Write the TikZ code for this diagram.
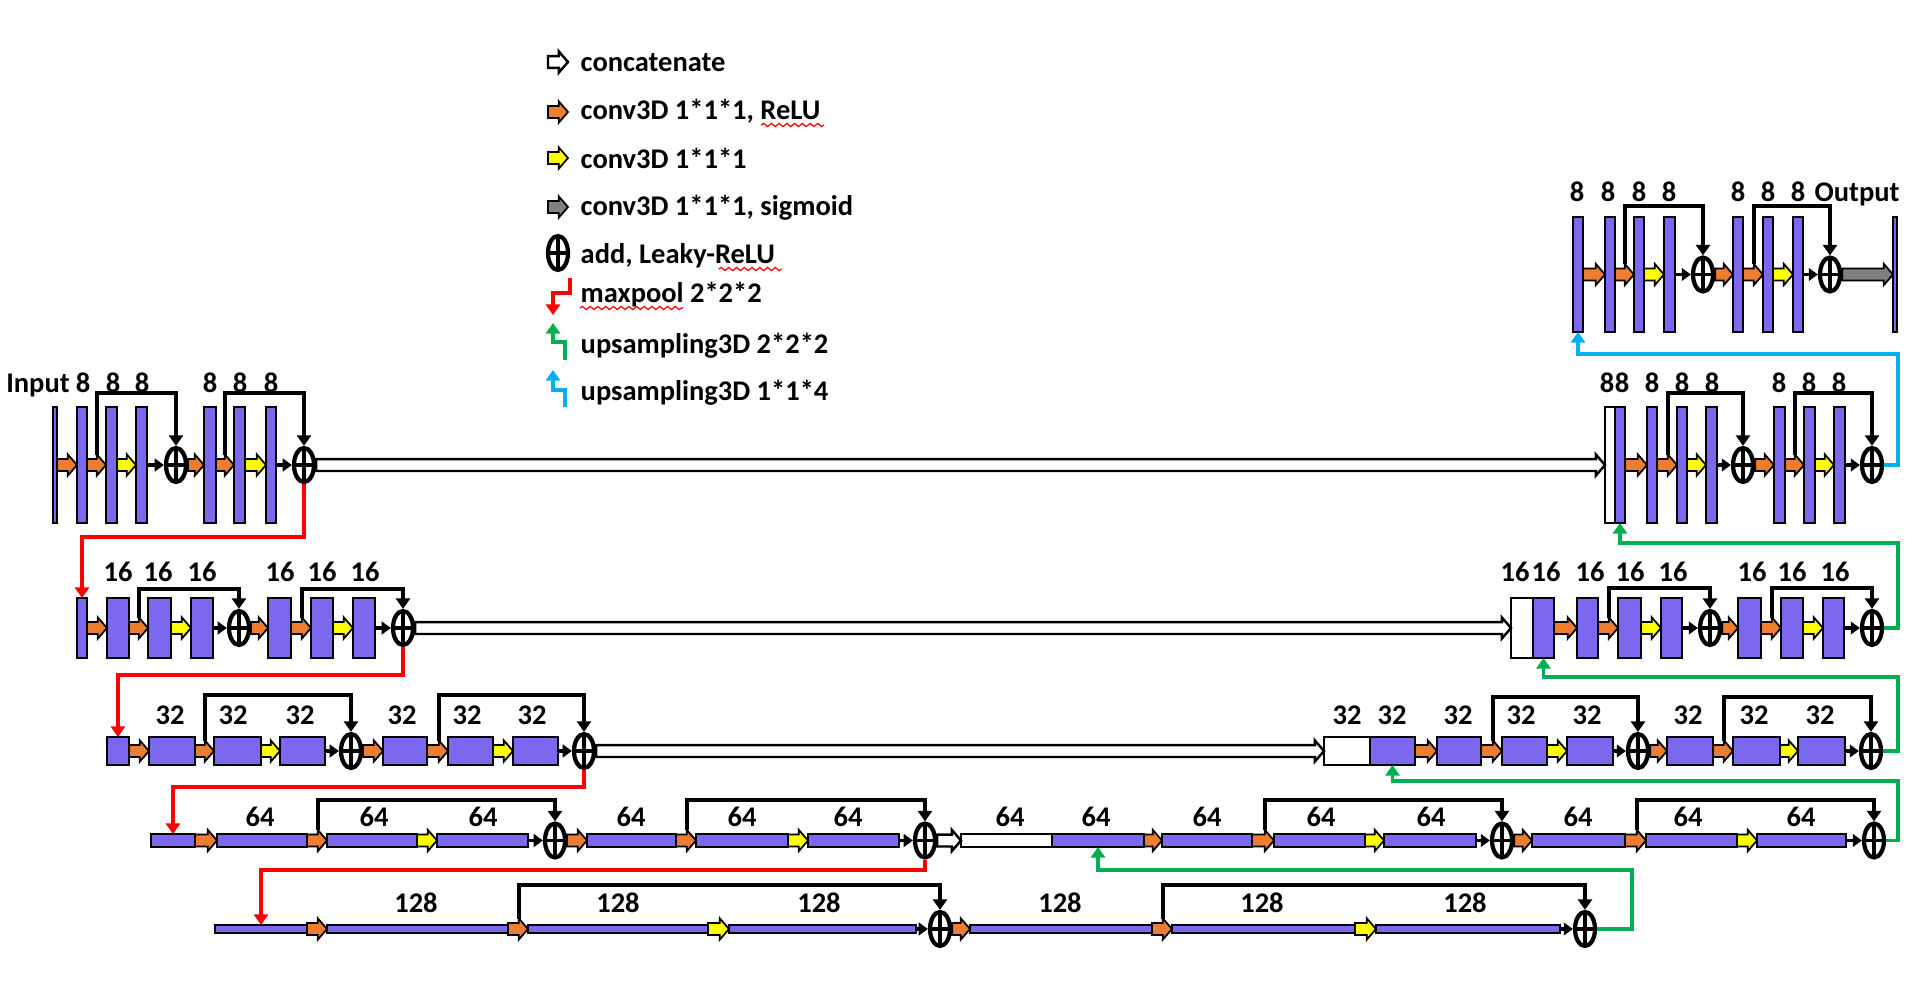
\documentclass[tikz,border=0pt]{standalone}
\usepackage{fontspec}
\setmainfont{Carlito}
\usetikzlibrary{shapes.geometric,calc,fit,arrows.meta,decorations.pathmorphing}

\definecolor{unitblue}{RGB}{123,104,238}
\definecolor{convorange}{RGB}{237,125,49}
\definecolor{convyellow}{RGB}{255,255,0}
\definecolor{sigmgrey}{RGB}{128,128,128}
\definecolor{poolred}{RGB}{255,0,0}
\definecolor{upgreen}{RGB}{0,176,80}
\definecolor{upblue}{RGB}{0,176,240}

\tikzset{
  fmap/.style={draw, fill=unitblue, line width=0.5pt, inner sep=0pt, outer sep=0pt},
  catbox/.style={fmap, fill=white},
  addop/.style={ellipse, draw, fill=white, line width=1.2pt, inner sep=0pt,
    minimum width=0.2cm, minimum height=0.34cm,
    path picture={\draw[line width=1.1pt]
      (path picture bounding box.north) -- (path picture bounding box.south)
      (path picture bounding box.west) -- (path picture bounding box.east);}},
  blockarrow/.style={draw, line width=0.5pt, line join=miter},
  resline/.style={line width=1.1pt, -{Triangle[length=2.6pt,width=3.6pt]}},
  skipline/.style={line width=1.1pt, line join=miter, -{Triangle[length=3pt,width=4pt]}},
  poolline/.style={skipline, draw=poolred},
  upline/.style={skipline, draw=upgreen},
  upline4/.style={skipline, draw=upblue},
  lbl/.style={font=\fontsize{8.1}{9}\selectfont\bfseries, inner sep=0pt, anchor=base},
  legtxt/.style={lbl, anchor=base west},
  squiggle/.style={draw=poolred, line width=0.35pt, decorate,
    decoration={snake, amplitude=0.45pt, segment length=2.2pt}}
}

% feature map box between two corners
\newcommand{\fm}[4][fmap]{\node[#1, fit={(#3) (#4)}] (#2) {};}
% block arrow (conv / concatenate / sigmoid)
\newcommand{\convarrow}[4][]{%
  \draw[blockarrow, fill=#2, #1] let \p1=(#3), \p2=(#4) in
    (\x1,\y1+1.7pt) -- (\x2-2.6pt,\y1+1.7pt) -- (\x2-2.6pt,\y1+3pt)
    -- (\x2,\y1) -- (\x2-2.6pt,\y1-3pt) -- (\x2-2.6pt,\y1-1.7pt)
    -- (\x1,\y1-1.7pt) -- cycle;}
% shortcut from the conv arrow into #1 up to the add node #2
\newcommand{\skipconn}[3]{%
  \draw[skipline] ([shift={(-9,-10.5)}]#1.west) |- (#2 |- 0,#3) -- (#2.north);}
% residual group: in, three maps, add
\newcommand{\resgroup}[6]{%
  \convarrow{convorange}{#1.east}{#2.west}
  \convarrow{convorange}{#2.east}{#3.west}
  \convarrow{convyellow}{#3.east}{#4.west}
  \draw[resline] (#4.east) -- (#5.west);
  \skipconn{#3}{#5}{#6}}

\begin{document}
\begin{tikzpicture}[x=0.01cm,y=-0.01cm]
  \useasboundingbox (0,0) rectangle (1914,1006);

  % legend
  \coordinate (lg1a) at (548,62); \coordinate (lg1b) at (568,62);
  \convarrow[line width=0.7pt]{white}{lg1a}{lg1b}
  \node[legtxt] (lt1) at (580,71) {concatenate};
  \coordinate (lg2a) at (548,112); \coordinate (lg2b) at (568,112);
  \convarrow{convorange}{lg2a}{lg2b}
  \node[legtxt] (lt2) at (580,119) {conv3D 1*1*1, ReLU};
  \coordinate (lg3a) at (548,158); \coordinate (lg3b) at (568,158);
  \convarrow{convyellow}{lg3a}{lg3b}
  \node[legtxt] (lt3) at (580,168) {conv3D 1*1*1};
  \coordinate (lg4a) at (548,207); \coordinate (lg4b) at (568,207);
  \convarrow{sigmgrey}{lg4a}{lg4b}
  \node[legtxt] (lt4) at (580,215) {conv3D 1*1*1, sigmoid};
  \node[addop] (lg5) at (558,253) {};
  \node[legtxt] (lt5) at (580,263) {add, Leaky-ReLU};
  \coordinate (lg6a) at (570,278); \coordinate (lg6b) at (553,315);
  \draw[poolline] (lg6a) |- (lg6b |- 0,293) -- (lg6b);
  \node[legtxt] (lt6) at (580,302) {maxpool 2*2*2};
  \coordinate (lg7a) at (565,360); \coordinate (lg7b) at (553,323);
  \draw[upline] (lg7a) |- (lg7b |- 0,342) -- (lg7b);
  \node[legtxt] (lt7) at (580,353) {upsampling3D 2*2*2};
  \coordinate (lg8a) at (565,407); \coordinate (lg8b) at (553,370);
  \draw[upline4] (lg8a) |- (lg8b |- 0,390) -- (lg8b);
  \node[legtxt] (lt8) at (580,400) {upsampling3D 1*1*4};
  \draw[squiggle] ([shift={(3,6)}]lt2.base east) -- ++(-63,0);
  \draw[squiggle] ([shift={(6,6)}]lt5.base east) -- ++(-63,0);
  \draw[squiggle] ([shift={(0,6)}]lt6.base west) -- ++(103,0);

  % level 0: output
  \fm{r0u}{1573,217}{1583,332}
  \fm{r0b1}{1605,217}{1615,332}
  \fm{r0b2}{1634,217}{1644,332}
  \fm{r0b3}{1664,217}{1675,332}
  \node[addop] (r0c1) at (1703,274.5) {};
  \fm{r0b4}{1733,217}{1743,332}
  \fm{r0b5}{1763,217}{1773,332}
  \fm{r0b6}{1793,217}{1803,332}
  \node[addop] (r0c2) at (1830,274.5) {};
  \fm{r0o}{1893,217}{1897,332}
  \resgroup{r0u}{r0b1}{r0b2}{r0b3}{r0c1}{206}
  \resgroup{r0c1}{r0b4}{r0b5}{r0b6}{r0c2}{206}
  \convarrow{sigmgrey}{r0c2.east}{r0o.west}
  \node[lbl] (n0a) at (1577,202) {8};
  \node[lbl] (n0b) at (1608,202) {8};
  \node[lbl] (n0c) at (1639,202) {8};
  \node[lbl] (n0d) at (1669,202) {8};
  \node[lbl] (n0e) at (1738,202) {8};
  \node[lbl] (n0f) at (1768,202) {8};
  \node[lbl] (n0g) at (1798,202) {8};
  \node[lbl] (n0h) at (1857,202) {Output};

  % level 1: 8
  \fm{r1i}{53,407}{57,523}
  \fm{r1b1}{77,407}{87,523}
  \fm{r1b2}{106,407}{117,523}
  \fm{r1b3}{136,407}{147,523}
  \node[addop] (r1c1) at (176,465) {};
  \fm{r1b4}{204,407}{216,523}
  \fm{r1b5}{234,407}{245,523}
  \fm{r1b6}{266,407}{276,523}
  \node[addop] (r1c2) at (304,465) {};
  \resgroup{r1i}{r1b1}{r1b2}{r1b3}{r1c1}{393}
  \resgroup{r1c1}{r1b4}{r1b5}{r1b6}{r1c2}{393}
  \fm[catbox]{r1w}{1605,407}{1615,523}
  \fm{r1u}{1615,407}{1625,523}
  \fm{r1rb1}{1647,407}{1657,523}
  \fm{r1rb2}{1677,407}{1687,523}
  \fm{r1rb3}{1706,407}{1717,523}
  \node[addop] (r1rc1) at (1743,465) {};
  \fm{r1rb4}{1774,407}{1785,523}
  \fm{r1rb5}{1804,407}{1815,523}
  \fm{r1rb6}{1834,407}{1845,523}
  \node[addop] (r1rc2) at (1872,465) {};
  \resgroup{r1u}{r1rb1}{r1rb2}{r1rb3}{r1rc1}{393}
  \resgroup{r1rc1}{r1rb4}{r1rb5}{r1rb6}{r1rc2}{393}
  \convarrow[line width=0.7pt]{white}{r1c2.east}{r1w.west}
  \node[lbl] (n1a) at (38,392) {Input};
  \node[lbl] (n1b) at (83,392) {8};
  \node[lbl] (n1c) at (113,392) {8};
  \node[lbl] (n1d) at (142,392) {8};
  \node[lbl] (n1e) at (210,392) {8};
  \node[lbl] (n1f) at (240,392) {8};
  \node[lbl] (n1g) at (271,392) {8};
  \node[lbl] (n1h) at (1607,392) {8};
  \node[lbl] (n1i) at (1622,392) {8};
  \node[lbl] (n1j) at (1652,392) {8};
  \node[lbl] (n1k) at (1682,392) {8};
  \node[lbl] (n1l) at (1712,392) {8};
  \node[lbl] (n1m) at (1779,392) {8};
  \node[lbl] (n1n) at (1809,392) {8};
  \node[lbl] (n1o) at (1839,392) {8};

  % level 2: 16
  \fm{r2a}{77,598}{87,658}
  \fm{r2b1}{107,598}{129,658}
  \fm{r2b2}{148,598}{171,658}
  \fm{r2b3}{191,598}{213,658}
  \node[addop] (r2c1) at (239,628) {};
  \fm{r2b4}{268,598}{291,658}
  \fm{r2b5}{311,598}{333,658}
  \fm{r2b6}{353,598}{375,658}
  \node[addop] (r2c2) at (403,628) {};
  \resgroup{r2a}{r2b1}{r2b2}{r2b3}{r2c1}{589}
  \resgroup{r2c1}{r2b4}{r2b5}{r2b6}{r2c2}{589}
  \fm[catbox]{r2w}{1511,598}{1533,658}
  \fm{r2u}{1533,598}{1554,658}
  \fm{r2rb1}{1577,598}{1598,658}
  \fm{r2rb2}{1618,598}{1641,658}
  \fm{r2rb3}{1661,598}{1682,658}
  \node[addop] (r2rc1) at (1710,628) {};
  \fm{r2rb4}{1738,598}{1761,658}
  \fm{r2rb5}{1781,598}{1803,658}
  \fm{r2rb6}{1823,598}{1844,658}
  \node[addop] (r2rc2) at (1872,628) {};
  \resgroup{r2u}{r2rb1}{r2rb2}{r2rb3}{r2rc1}{588}
  \resgroup{r2rc1}{r2rb4}{r2rb5}{r2rb6}{r2rc2}{588}
  \convarrow[line width=0.7pt]{white}{r2c2.east}{r2w.west}
  \node[lbl] (n2a) at (118,581) {16};
  \node[lbl] (n2b) at (158,581) {16};
  \node[lbl] (n2c) at (202,581) {16};
  \node[lbl] (n2d) at (280,581) {16};
  \node[lbl] (n2e) at (322,581) {16};
  \node[lbl] (n2f) at (365,581) {16};
  \node[lbl] (n2g) at (1515,581) {16};
  \node[lbl] (n2h) at (1546,581) {16};
  \node[lbl] (n2i) at (1590,581) {16};
  \node[lbl] (n2j) at (1630,581) {16};
  \node[lbl] (n2k) at (1673,581) {16};
  \node[lbl] (n2l) at (1752,581) {16};
  \node[lbl] (n2m) at (1792,581) {16};
  \node[lbl] (n2n) at (1835,581) {16};

  % level 3: 32
  \fm{r3a}{107,737}{129,765}
  \fm{r3b1}{149,737}{195,765}
  \fm{r3b2}{214,737}{261,765}
  \fm{r3b3}{280,737}{325,765}
  \node[addop] (r3c1) at (351,751) {};
  \fm{r3b4}{383,737}{427,765}
  \fm{r3b5}{448,737}{493,765}
  \fm{r3b6}{513,737}{558,765}
  \node[addop] (r3c2) at (584,751) {};
  \resgroup{r3a}{r3b1}{r3b2}{r3b3}{r3c1}{695}
  \resgroup{r3c1}{r3b4}{r3b5}{r3b6}{r3c2}{695}
  \fm[catbox]{r3w}{1324,737}{1370,765}
  \fm{r3u}{1370,737}{1415,765}
  \fm{r3rb1}{1437,737}{1481,765}
  \fm{r3rb2}{1502,737}{1547,765}
  \fm{r3rb3}{1567,737}{1613,765}
  \node[addop] (r3rc1) at (1638,751) {};
  \fm{r3rb4}{1667,737}{1713,765}
  \fm{r3rb5}{1733,737}{1780,765}
  \fm{r3rb6}{1798,737}{1845,765}
  \node[addop] (r3rc2) at (1871,751) {};
  \resgroup{r3u}{r3rb1}{r3rb2}{r3rb3}{r3rc1}{697}
  \resgroup{r3rc1}{r3rb4}{r3rb5}{r3rb6}{r3rc2}{697}
  \convarrow[line width=0.7pt]{white}{r3c2.east}{r3w.west}
  \node[lbl] (n3a) at (170,724) {32};
  \node[lbl] (n3b) at (233,724) {32};
  \node[lbl] (n3c) at (300,724) {32};
  \node[lbl] (n3d) at (402,724) {32};
  \node[lbl] (n3e) at (467,724) {32};
  \node[lbl] (n3f) at (532,724) {32};
  \node[lbl] (n3g) at (1347,724) {32};
  \node[lbl] (n3h) at (1392,724) {32};
  \node[lbl] (n3i) at (1458,724) {32};
  \node[lbl] (n3j) at (1521,724) {32};
  \node[lbl] (n3k) at (1587,724) {32};
  \node[lbl] (n3l) at (1688,724) {32};
  \node[lbl] (n3m) at (1754,724) {32};
  \node[lbl] (n3n) at (1820,724) {32};

  % level 4: 64
  \fm{r4a}{151,834}{195,847}
  \fm{r4b1}{217,834}{307,847}
  \fm{r4b2}{327,834}{417,847}
  \fm{r4b3}{437,834}{528,847}
  \node[addop] (r4c1) at (555,840.5) {};
  \fm{r4b4}{587,834}{676,847}
  \fm{r4b5}{696,834}{788,847}
  \fm{r4b6}{808,834}{899,847}
  \node[addop] (r4c2) at (925,840.5) {};
  \resgroup{r4a}{r4b1}{r4b2}{r4b3}{r4c1}{800}
  \resgroup{r4c1}{r4b4}{r4b5}{r4b6}{r4c2}{800}
  \fm[catbox]{r4w}{961,834}{1052,847}
  \fm{r4u}{1052,834}{1144,847}
  \fm{r4rb1}{1162,834}{1252,847}
  \fm{r4rb2}{1274,834}{1365,847}
  \fm{r4rb3}{1384,834}{1476,847}
  \node[addop] (r4rc1) at (1502,840.5) {};
  \fm{r4rb4}{1532,834}{1625,847}
  \fm{r4rb5}{1646,834}{1737,847}
  \fm{r4rb6}{1757,834}{1846,847}
  \node[addop] (r4rc2) at (1874,840.5) {};
  \resgroup{r4u}{r4rb1}{r4rb2}{r4rb3}{r4rc1}{800}
  \resgroup{r4rc1}{r4rb4}{r4rb5}{r4rb6}{r4rc2}{800}
  \convarrow[line width=0.7pt]{white}{r4c2.east}{r4w.west}
  \node[lbl] (n4a) at (260,826) {64};
  \node[lbl] (n4b) at (374,826) {64};
  \node[lbl] (n4c) at (483,826) {64};
  \node[lbl] (n4d) at (631,826) {64};
  \node[lbl] (n4e) at (742,826) {64};
  \node[lbl] (n4f) at (848,826) {64};
  \node[lbl] (n4g) at (1010,826) {64};
  \node[lbl] (n4h) at (1096,826) {64};
  \node[lbl] (n4i) at (1207,826) {64};
  \node[lbl] (n4j) at (1321,826) {64};
  \node[lbl] (n4k) at (1431,826) {64};
  \node[lbl] (n4l) at (1578,826) {64};
  \node[lbl] (n4m) at (1688,826) {64};
  \node[lbl] (n4n) at (1801,826) {64};

  % level 5: 128
  \fm{r5a}{215,925}{307,933}
  \fm{r5b1}{327,925}{508,933}
  \fm{r5b2}{528,925}{708,933}
  \fm{r5b3}{729,925}{916,933}
  \node[addop] (r5c1) at (940,929) {};
  \fm{r5b4}{970,925}{1152,933}
  \fm{r5b5}{1172,925}{1355,933}
  \fm{r5b6}{1376,925}{1560,933}
  \node[addop] (r5c2) at (1585,929) {};
  \resgroup{r5a}{r5b1}{r5b2}{r5b3}{r5c1}{885}
  \resgroup{r5c1}{r5b4}{r5b5}{r5b6}{r5c2}{885}
  \node[lbl] (n5a) at (416,912) {128};
  \node[lbl] (n5b) at (618,912) {128};
  \node[lbl] (n5c) at (819,912) {128};
  \node[lbl] (n5d) at (1060,912) {128};
  \node[lbl] (n5e) at (1262,912) {128};
  \node[lbl] (n5f) at (1465,912) {128};

  % maxpool
  \draw[poolline] (r1c2.south) -- (r1c2 |- 0,537) -| (r2a.north);
  \draw[poolline] (r2c2.south) -- (r2c2 |- 0,675) -| (r3a.north);
  \draw[poolline] (r3c2.south) -- (r3c2 |- 0,787) -| (r4a.north);
  \draw[poolline] (r4c2.south) -- (r4c2 |- 0,870) -| (r5a.north);

  % upsampling
  \draw[upline] (r5c2.east) -| (1632,870) -| (r4u.south);
  \draw[upline] (r4rc2.east) -| (1898,781) -| (r3u.south);
  \draw[upline] (r3rc2.east) -| (1898,677) -| (r2u.south);
  \draw[upline] (r2rc2.east) -| (1898,543) -| (r1u.south);
  \draw[upline4] (r1rc2.east) -| (1898,354) -| (r0u.south);
\end{tikzpicture}
\end{document}
